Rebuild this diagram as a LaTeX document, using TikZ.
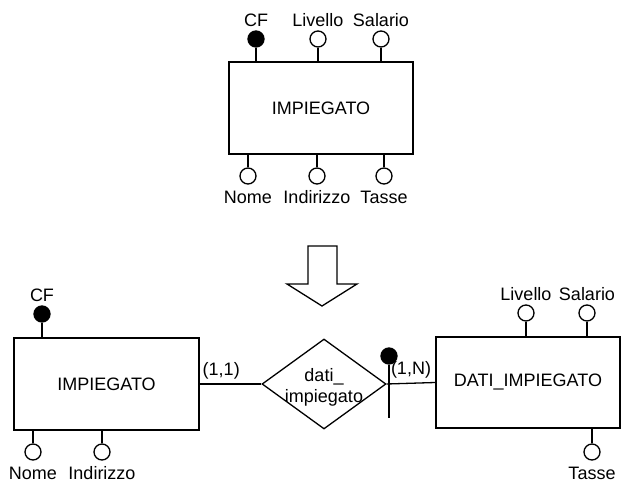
\documentclass[tikz,border=0pt]{standalone}
\usepackage{fontspec}
\setmainfont{Liberation Sans}
\usetikzlibrary{shapes,positioning,calc}

\begin{document}
\begin{tikzpicture}[x=1pt, y=-1pt, line width=1.3pt,
    every node/.style={font=\fontsize{18}{21}\selectfont},
    every label/.style={text height=13pt, text depth=0pt},
    entity/.style={draw, rectangle, minimum width=184pt, minimum height=92pt},
    attr/.style={draw, circle, inner sep=0pt, minimum size=16pt},
    keyattr/.style={attr, fill=black},
    relation/.style={draw, diamond, inner sep=0pt, minimum width=124pt, minimum height=90pt},
    card/.style={above, inner sep=4pt}]
    \useasboundingbox (0,0) rectangle (622,484);

    % Original entity
    \node[entity] (imp) at (321,108) {IMPIEGATO};
    \node[keyattr, label={above:CF}] (cf) at (256,39) {};
    \node[attr, label={above:Livello}] (livello) at (318,39) {};
    \node[attr, label={above:Salario}] (salario) at (381,39) {};
    \node[attr, label={[label distance=2pt]below:Nome}] (nome) at (248,176) {};
    \node[attr, label={[label distance=2pt]below:Indirizzo}] (indirizzo) at (317,176) {};
    \node[attr, label={[label distance=2pt]below:Tasse}] (tasse) at (384,176) {};
    \draw (cf) -- (cf |- imp.north);
    \draw (livello) -- (livello |- imp.north);
    \draw (salario) -- (salario |- imp.north);
    \draw (nome) -- (nome |- imp.south);
    \draw (indirizzo) -- (indirizzo |- imp.south);
    \draw (tasse) -- (tasse |- imp.south);

    % Transformation arrow
    \draw (308,246) -- (337,246) -- (337,284) -- (357,284) -- (322,306)
        -- (287,284) -- (308,284) -- cycle;

    % Split entity
    \node[entity, minimum width=185pt] (imp2) at (106.5,384) {IMPIEGATO};
    \node[keyattr, label={above:CF}] (cf2) at (42,314) {};
    \node[attr, label={[label distance=2pt]below:Nome}] (nome2) at (33,452) {};
    \node[attr, label={[label distance=2pt]below:Indirizzo}] (indirizzo2) at (102,452) {};
    \draw (cf2) -- (cf2 |- imp2.north);
    \draw (nome2) -- (nome2 |- imp2.south);
    \draw (indirizzo2) -- (indirizzo2 |- imp2.south);

    \node[relation, label={[align=center, text height=, yshift=-1pt]center:dati\_\\impiegato}] (rel) at (324,384) {};

    \node[entity, minimum height=91pt] (dati) at (528,382.5) {DATI\_IMPIEGATO};
    \node[attr, label={above:Livello}] (livello2) at (526,313) {};
    \node[attr, label={above:Salario}] (salario2) at (587,313) {};
    \node[attr, label={[label distance=2pt]below:Tasse}] (tasse2) at (592,452) {};
    \draw (livello2) -- (livello2 |- dati.north);
    \draw (salario2) -- (salario2 |- dati.north);
    \draw (tasse2) -- (tasse2 |- dati.south);

    \draw (imp2.east) -- node[card, pos=0.35] (c11) {(1,1)} (rel.west);
    \draw (rel.east) -- node[card, pos=0.5] (c1n) {(1,N)} (dati.west);

    % External identifier
    \node[keyattr] (extid) at (389,356) {};
    \coordinate (extend) at (389,418);
    \draw (extid) -- (extend);
\end{tikzpicture}
\end{document}
